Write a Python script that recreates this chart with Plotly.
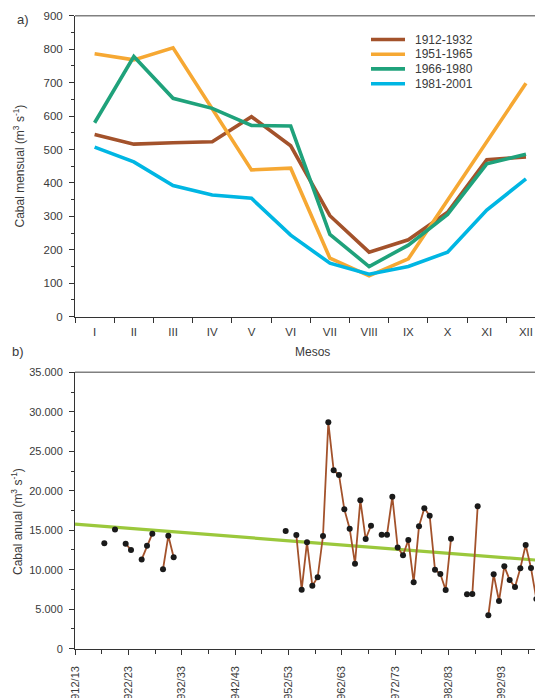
import plotly.graph_objects as go

# ---------------- data ----------------
months = ["I", "II", "III", "IV", "V", "VI", "VII", "VIII", "IX", "X", "XI", "XII"]
series_names = ["1912-1932", "1951-1965", "1966-1980", "1981-2001"]
s_1912_1932 = [545, 516, 520, 523, 598, 511, 302, 193, 230, 312, 469, 478]
s_1951_1965 = [786, 768, 804, 622, 439, 444, 175, 122, 173, 348, 523, 698]
s_1966_1980 = [580, 778, 653, 623, 572, 570, 246, 150, 214, 306, 457, 486]
s_1981_2001 = [507, 463, 392, 364, 354, 244, 160, 127, 150, 193, 319, 412]
series_colors = ["#A3522B", "#F6A833", "#1FA27B", "#00B6E3"]

years = list(range(1917, 1999))
annual = [
    13350, None, 15100, None, 13300, 12500, None, 11300, 13050, 14570,   # 1917-1926
    None, 10060, 14300, 11570, None, None, None, None, None, None,        # 1927-1936
    None, None, None, None, None, None, None, None, None, None,           # 1937-1946
    None, None, None, None, 14900, None, 14400, 7470, 13470, 7980,        # 1947-1956
    9040, 14270, 28670, 22590, 22000, 17650, 15200, 10770, 18790, 13890,  # 1957-1966
    15580, None, 14440, 14440, 19250, 12830, 11820, 13760, 8400, 15500,   # 1967-1976
    17780, 16850, 10000, 9460, 7430, 13930, None, None, 6880, 6920,       # 1977-1986
    18030, None, 4220, 9420, 6040, 10430, 8700, 7810, 10180, 13130,       # 1987-1996
    10220, 6300,                                                          # 1997-1998
]
trend_years = [1912, 1998.3]
trend_values = [15780, 11230]
year_ticks = [1912, 1922, 1932, 1942, 1952, 1962, 1972, 1982, 1992]
year_labels = ["1912/13", "1922/23", "1932/33", "1942/43", "1952/53",
               "1962/63", "1972/73", "1982/83", "1992/93"]

# ---------------- figure ----------------
W, H = 535, 698
ML = 75
FONT = "Liberation Sans, Arial, Helvetica, sans-serif"
TXT = "#3a3a3a"


def px2x(px):
    return (px - ML) / (W - ML)


def py2y(py):
    return 1 - py / H


fig = go.Figure()

for name, vals, col in zip(series_names, [s_1912_1932, s_1951_1965, s_1966_1980, s_1981_2001], series_colors):
    fig.add_trace(go.Scatter(x=months, y=vals, mode="lines", name=name,
                             line=dict(color=col, width=3.6), xaxis="x", yaxis="y",
                             showlegend=False))

fig.add_trace(go.Scatter(x=trend_years, y=trend_values, mode="lines",
                         line=dict(color="#9BC83C", width=3.2), xaxis="x2", yaxis="y2",
                         showlegend=False))
fig.add_trace(go.Scatter(x=[y + 0.5 for y in years], y=annual, mode="lines+markers",
                         line=dict(color="#A3522B", width=1.8),
                         marker=dict(color="#1a1a1a", size=6),
                         connectgaps=False, xaxis="x2", yaxis="y2", showlegend=False))

axis_common = dict(showline=True, linecolor="#333333", linewidth=1, showgrid=False,
                   zeroline=False, ticks="outside", tickcolor="#333333", automargin=False,
                   tickfont=dict(family=FONT, color=TXT))

fig.update_layout(
    width=W, height=H, autosize=False,
    margin=dict(l=ML, r=0, t=0, b=0, pad=0, autoexpand=False),
    paper_bgcolor="white", plot_bgcolor="white",
    separators=",.",
    font=dict(family=FONT, color=TXT),
    showlegend=False,
    xaxis=dict(axis_common, type="category", categoryorder="array", categoryarray=months,
               range=[-0.5, 11.23], tickson="boundaries", ticklen=5, ticklabelstandoff=4,
               domain=[0, 1], anchor="y", tickfont=dict(family=FONT, color=TXT, size=11.5)),
    yaxis=dict(axis_common, range=[0, 900], dtick=100, tick0=0, ticklen=5,
               ticklabelstandoff=4,
               minor=dict(dtick=50, ticks="outside", ticklen=3, tickcolor="#333333"),
               domain=[py2y(316.7), py2y(15.7)], anchor="x",
               tickfont=dict(family=FONT, color=TXT, size=11.5)),
    xaxis2=dict(axis_common, range=[1912, 1998.25], tickmode="array",
                tickvals=year_ticks, ticktext=year_labels, tickangle=-90, ticklen=5,
                ticklabelstandoff=7,
                minor=dict(tickmode="linear", tick0=1912, dtick=5, ticks="outside",
                           ticklen=4, tickcolor="#333333"),
                domain=[0, 1], anchor="y2", tickfont=dict(family=FONT, color=TXT, size=11)),
    yaxis2=dict(axis_common, range=[0, 35000], dtick=5000, tick0=0, tickformat=",",
                ticklen=5, ticklabelstandoff=4,
                minor=dict(dtick=2500, ticks="outside", ticklen=3, tickcolor="#333333"),
                domain=[py2y(648.7), py2y(372.3)], anchor="x2",
                tickfont=dict(family=FONT, color=TXT, size=11)),
)

# top frame borders (gray)
fig.add_shape(type="line", xref="x domain", yref="y domain", x0=0, x1=1, y0=1, y1=1,
              line=dict(color="#808080", width=1.6))
fig.add_shape(type="line", xref="x2 domain", yref="y2 domain", x0=0, x1=1, y0=1, y1=1,
              line=dict(color="#808080", width=1.6))

annotations = [
    dict(text="a)", x=px2x(22.5), y=py2y(19), font=dict(size=13)),
    dict(text="b)", x=px2x(17.5), y=py2y(351), font=dict(size=13)),
    dict(text="Mesos", x=px2x(312), y=py2y(351.5), font=dict(size=12)),
    dict(text="Cabal mensual (m<sup>3</sup> s<sup>-1</sup>)", x=px2x(18), y=py2y(166.5),
         textangle=-90, font=dict(size=12)),
    dict(text="Cabal anual (m<sup>3</sup> s<sup>-1</sup>)", x=px2x(17), y=py2y(522),
         textangle=-90, font=dict(size=12)),
]
for a in annotations:
    fig.add_annotation(xref="paper", yref="paper", showarrow=False,
                       xanchor="center", yanchor="middle", **a)

# legend (drawn manually to match compact spacing)
legend_rows = [39.5, 54.3, 68.9, 83.7]
for name, col, ry in zip(series_names, series_colors, legend_rows):
    fig.add_shape(type="line", xref="paper", yref="paper",
                  x0=px2x(371), x1=px2x(405), y0=py2y(ry), y1=py2y(ry),
                  line=dict(color=col, width=3.6))
    fig.add_annotation(xref="paper", yref="paper", showarrow=False, text=name,
                       x=px2x(413), y=py2y(ry), xanchor="left", yanchor="middle",
                       font=dict(size=12, color=TXT))

fig.write_html("out.html")
